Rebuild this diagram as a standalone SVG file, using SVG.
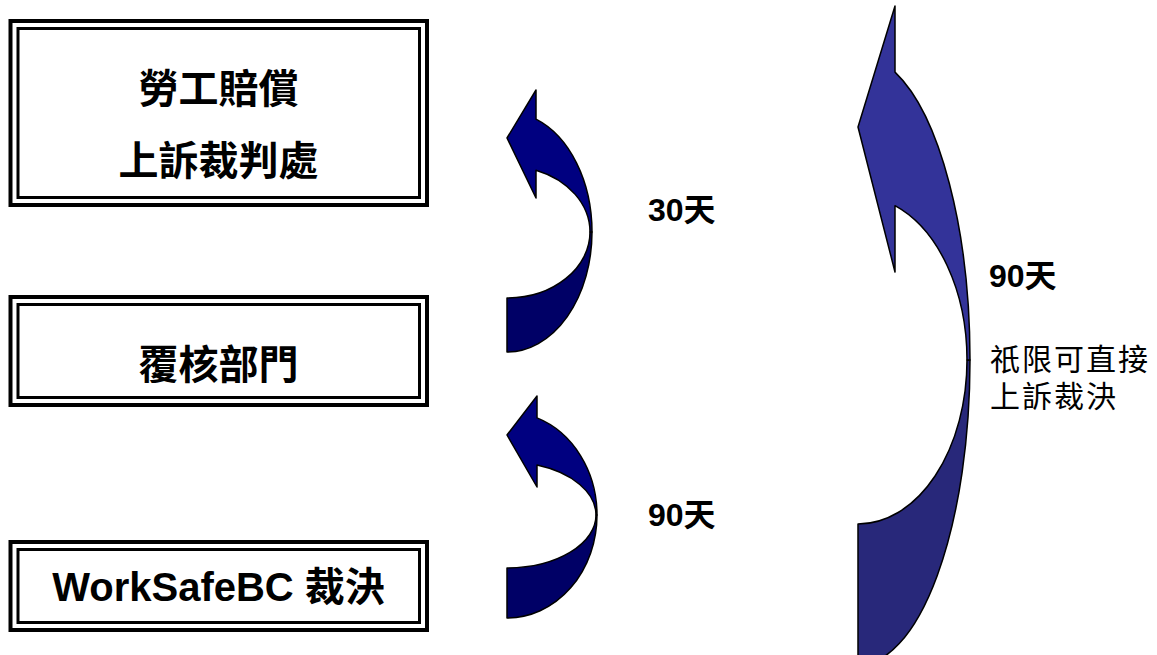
<svg xmlns="http://www.w3.org/2000/svg" width="1157" height="655" viewBox="0 0 1157 655">
<style>
.outer{fill:#fff;stroke:#000;stroke-width:4}
.inner{fill:none;stroke:#000;stroke-width:3}
.nt{font-family:"Liberation Sans","Noto Sans CJK TC",sans-serif;font-weight:bold;font-size:40px;fill:#000;text-anchor:middle}
.lb{font-family:"Liberation Sans","Noto Sans CJK TC",sans-serif;font-weight:bold;font-size:32px;fill:#000}
.nb{font-family:"Liberation Sans","Noto Sans CJK TC",sans-serif;font-weight:normal;font-size:30px;letter-spacing:2px;fill:#000}
.arr{stroke:#000;stroke-width:1.5;stroke-linejoin:round}
.s1{fill:#000080}
.s2{fill:#000066}
.l1{fill:#333399}
.l2{fill:#28287A}
</style>
<rect width="1157" height="655" fill="#fff"/>
<g id="node-appeal-tribunal">
<rect class="outer" x="10.5" y="21" width="416.5" height="184"/>
<rect class="inner" x="18" y="28.5" width="401.5" height="169"/>
<text class="nt" x="218.5" y="103">勞工賠償</text>
<text class="nt" x="218.5" y="175">上訴裁判處</text>
</g>
<g id="node-review-division">
<rect class="outer" x="10.5" y="297" width="416.5" height="108"/>
<rect class="inner" x="18" y="304.5" width="401.5" height="93"/>
<text class="nt" x="218.5" y="379">覆核部門</text>
</g>
<g id="node-worksafebc">
<rect class="outer" x="10.5" y="542" width="416.5" height="88"/>
<rect class="inner" x="18" y="549.5" width="401.5" height="73"/>
<text class="nt" x="218.5" y="601">WorkSafeBC 裁決</text>
</g>
<g id="connectors">
<g id="arrow-30">
<path class="arr s2" d="M507,298 A83,66 0 0 0 590,232 L592,232 A85,120 0 0 1 507,352 Z"/>
<path class="arr s1" d="M536,119.2 L536,90 L507,138 L536,198 L536,170.2 A83,66 0 0 1 590,232 L592,232 A85,120 0 0 0 536,119.2 Z"/>
<text class="lb" x="648" y="221">30天</text>
</g>
<g id="arrow-90-review">
<path class="arr s2" d="M507,568 A89,53 0 0 0 596,515 L597,515 A90,103 0 0 1 507,618 Z"/>
<path class="arr s1" d="M537,417.9 L537,396 L507,435 L537,487 L537,465.1 A89,53 0 0 1 596,515 L597,515 A90,103 0 0 0 537,417.9 Z"/>
<text class="lb" x="648" y="526">90天</text>
</g>
<g id="arrow-90-direct">
<path class="arr l2" d="M858,524 A109,164 0 0 0 967,360 L970,360 A112,305 0 0 1 858,665 Z"/>
<path class="arr l1" d="M895,72.1 L895,6 L858,127 L895,272 L895,205.7 A109,164 0 0 1 967,360 L970,360 A112,305 0 0 0 895,72.1 Z"/>
<text class="lb" x="989" y="287">90天</text>
<text class="nb" x="990" y="370">祇限可直接</text>
<text class="nb" x="990" y="407">上訴裁決</text>
</g>
</g>
</svg>
